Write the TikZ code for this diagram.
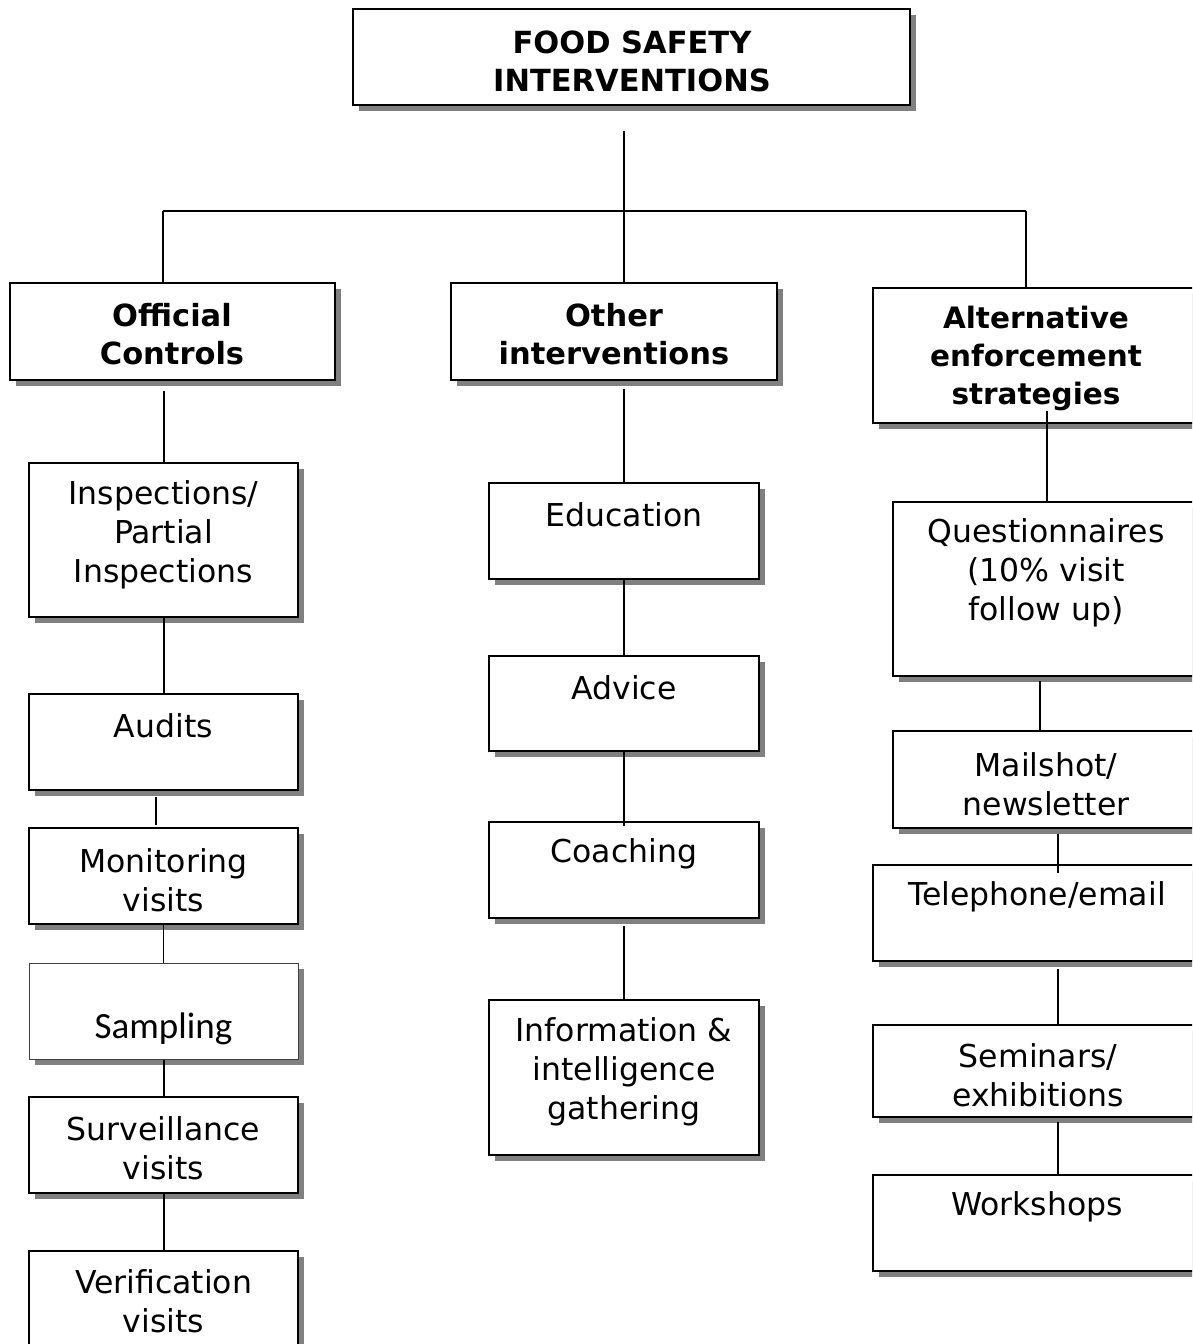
\documentclass[tikz,border=0pt]{standalone}
\usepackage{fontspec}
\setmainfont{DejaVu Sans}
\newfontfamily\calfont{Carlito}
\usepackage{tikz}
\usetikzlibrary{shadows, positioning}
\tikzstyle{box} = [rectangle, draw, fill=white, line width=2pt, inner sep=0pt,
	drop shadow={shadow xshift=6pt, shadow yshift=-6pt, fill=black!50, opacity=1}]
\tikzstyle{txt} = [align=center, inner sep=0pt, font=\fontsize{31.5}{39}\selectfont]
\tikzstyle{ttl} = [align=center, inner sep=0pt, font=\fontsize{30.5}{38}\selectfont\bfseries]
\tikzstyle{line} = [draw, line width=2pt]

\begin{document}
\begin{tikzpicture}[x=1pt, y=-1pt]
			\useasboundingbox (0,0) rectangle (1192,1344);
			\clip (0,0) rectangle (1192,1344);

			% top and the three branches
			\node [box, minimum width=557, minimum height=96] (top) at (631.5,57) {};
			\node [box, minimum width=325, minimum height=97] (oc) at (172.5,331.5) {};
			\node [box, minimum width=326, minimum height=97] (other) at (614,331.5) {};
			\node [box, minimum width=327, minimum height=135] (alt) at (1036.5,355.5) {};

			% official controls
			\node [box, minimum width=269, minimum height=154] (insp) at (163.5,540) {};
			\node [box, minimum width=269, minimum height=96] (audits) at (163.5,742) {};
			\node [box, minimum width=269, minimum height=96] (monitoring) at (163.5,876) {};
			\node [box, line width=1pt, draw=black!75, minimum width=269, minimum height=96] (sampling) at (163.5,1011) {};
			\node [box, minimum width=269, minimum height=96] (surveillance) at (163.5,1145) {};
			\node [box, minimum width=269, minimum height=96] (verification) at (163.5,1299) {};

			% other interventions
			\node [box, minimum width=270, minimum height=96] (education) at (624,531) {};
			\node [box, minimum width=270, minimum height=95] (advice) at (624,703.5) {};
			\node [box, minimum width=270, minimum height=96] (coaching) at (624,870) {};
			\node [box, minimum width=270, minimum height=155] (info) at (624,1077.5) {};

			% alternative strategies
			\node [box, minimum width=307, minimum height=174] (quest) at (1046.5,589) {};
			\node [box, minimum width=307, minimum height=97] (mailshot) at (1046.5,779.5) {};
			\node [box, minimum width=327, minimum height=96] (telephone) at (1036.5,913) {};
			\node [box, minimum width=327, minimum height=92] (seminars) at (1036.5,1071) {};
			\node [box, minimum width=327, minimum height=96] (workshops) at (1036.5,1223) {};

			% texts
			\node [ttl] (t-top) at (632,61) {FOOD SAFETY\\INTERVENTIONS};
			\node [ttl] (t-oc) at (172,334.5) {Official\\Controls};
			\node [ttl] (t-other) at (614,334.5) {Other\\interventions};
			\node [ttl, font=\fontsize{29.5}{38}\selectfont\bfseries] (t-alt) at (1036,358.5) {Alternative\\enforcement\\strategies};
			\node [txt] (t-insp) at (163.5,535) {Inspections/\\Partial\\Inspections};
			\node [txt] (t-audits) at (163.5,726) {Audits};
			\node [txt] (t-monitoring) at (163.5,880) {Monitoring\\visits};
			\node [txt, font=\calfont\fontsize{37}{44}\selectfont] (t-sampling) at (163.5,1029) {Sampling};
			\node [txt] (t-surveillance) at (163.5,1148) {Surveillance\\visits};
			\node [txt] (t-verification) at (163.5,1301.5) {Verification\\visits};
			\node [txt] (t-education) at (624,515) {Education};
			\node [txt] (t-advice) at (624,688) {Advice};
			\node [txt] (t-coaching) at (624,854) {Coaching};
			\node [txt] (t-info) at (624,1072) {Information \&\\intelligence\\gathering};
			\node [txt] (t-quest) at (1046,573) {Questionnaires\\(10\% visit\\follow up)};
			\node [txt] (t-mailshot) at (1046,784.5) {Mailshot/\\newsletter};
			\node [txt] (t-telephone) at (1037,897) {Telephone/email};
			\node [txt] (t-seminars) at (1038,1075.5) {Seminars/\\exhibitions};
			\node [txt] (t-workshops) at (1037,1207) {Workshops};

			\coordinate (hub) at (624,211);
			\coordinate (barl) at (163,211);
			\coordinate (barr) at (1026,211);
			\coordinate (aline) at (156,0);
			\coordinate (qline) at (1040,0);
			\coordinate (rline) at (1058,0);

			\path [line, shorten <=25pt] (top.south -| hub) -- (hub);
			\path [line] (barl) -- (barr);
			\path [line] (barl) -- (barl |- oc.north);
			\path [line] (hub) -- (hub |- other.north);
			\path [line] (barr) -- (barr |- alt.north);

			\path [line, shorten <=10pt] (oc.south -| insp.north) -- (insp.north);
			\path [line] (insp) -- (audits);
			\path [line, shorten <=6pt, shorten >=2pt] (audits.south -| aline) -- (monitoring.north -| aline);
			\path [line, line width=1pt] (monitoring) -- (sampling);
			\path [line] (sampling) -- (surveillance);
			\path [line] (surveillance) -- (verification);

			\path [line, shorten <=8pt] (other.south -| education.north) -- (education.north);
			\path [line] (education) -- (advice);
			\path [line, shorten >=-5pt] (advice) -- (coaching);
			\path [line, shorten <=7pt] (coaching) -- (info);

			\path [line, shorten <=-13pt] (alt.south -| quest.north) -- (quest.north);
			\path [line, shorten <=4pt] (quest.south -| qline) -- (mailshot.north -| qline);
			\path [line, shorten <=5pt, shorten >=-9pt] (mailshot.south -| rline) -- (telephone.north -| rline);
			\path [line, shorten <=7pt] (telephone.south -| rline) -- (seminars.north -| rline);
			\path [line, shorten <=4pt] (seminars.south -| rline) -- (workshops.north -| rline);
		\end{tikzpicture}
\end{document}
